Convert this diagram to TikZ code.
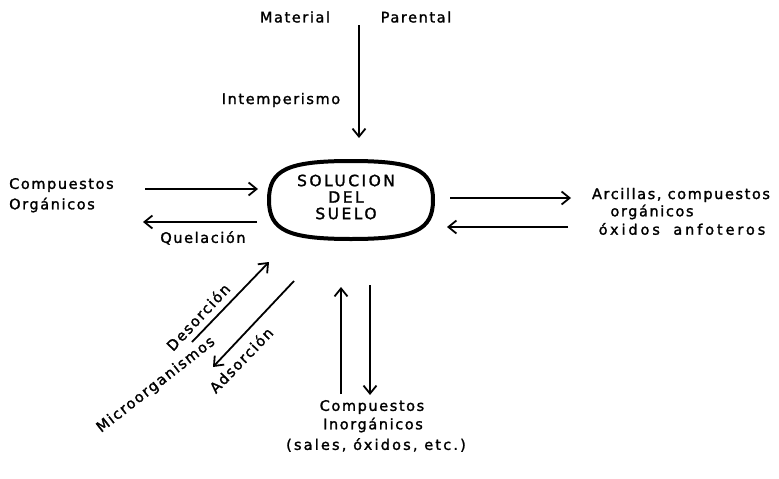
\documentclass[tikz,border=0pt]{standalone}
\usepackage{fontspec}
\setmainfont[LetterSpace=11,FakeBold=1.6]{DejaVu Sans}
\usetikzlibrary{arrows.meta}
\begin{document}
\begin{tikzpicture}[x=1pt,y=-1pt,
  lbl/.style={inner sep=0pt, font=\fontsize{14.5}{16.5}\selectfont},
  flow/.style={line width=1.8pt, -{Straight Barb[length=8pt,width=13pt,line width=1.8pt]}},
  blob/.style={line width=4pt, line join=round}]
\useasboundingbox (0,0) rectangle (779,479);
% central node
\node (sol) [minimum width=164pt, minimum height=78pt, align=center, lbl,
  font=\fontsize{15.5}{16.5}\selectfont\addfontfeature{LetterSpace=16}]
  at (346,197) {SOLUCION\\DEL\\SUELO};
\draw[blob] (433,200) .. controls (433,170) and (415,161) .. (351,161)
  .. controls (287,161) and (269,170) .. (269,200)
  .. controls (269,230) and (287,239) .. (351,239)
  .. controls (415,239) and (433,230) .. (433,200) -- cycle;
% texts
\node (mat) [lbl] at (295,17) {Material};
\node (par) [lbl] at (416,17) {Parental};
\node (int) [lbl] at (281,100) {Intemperismo};
\node (co1) [lbl, anchor=west] at (9,185) {Compuestos};
\node (co2) [lbl, anchor=west] at (9,205) {Orgánicos};
\node (que) [lbl] at (203,238) {Quelación};
\node (ar1) [lbl] at (681,195) {Arcillas, compuestos};
\node (ar2) [lbl] at (652,212) {orgánicos};
\node (ar3) [lbl, font=\fontsize{14.5}{16.5}\selectfont\addfontfeature{LetterSpace=20}]
  at (682,229) {óxidos\hspace{6pt} anfoteros};
\node (des) [lbl, rotate=47] at (198,317) {Desorción};
\node (ads) [lbl, rotate=46] at (241,360) {Adsorción};
\node (mic) [lbl, rotate=38] at (156,385) {Microorganismos};
\node (bi1) [lbl] at (372,407) {Compuestos};
\node (bi2) [lbl] at (373,425) {Inorgánicos};
\node (bi3) [lbl, font=\fontsize{14.5}{16.5}\selectfont\addfontfeature{LetterSpace=15}]
  at (376,445) {(sales, óxidos, etc.)};
% arrow end points
\coordinate (ta) at (359,25);   \coordinate (tb) at (359,138);
\coordinate (l1a) at (145,189); \coordinate (l1b) at (258,189);
\coordinate (l2a) at (257,222); \coordinate (l2b) at (143,222);
\coordinate (r1a) at (450,198); \coordinate (r1b) at (571,198);
\coordinate (r2a) at (568,227); \coordinate (r2b) at (447,227);
\coordinate (da) at (192,342);  \coordinate (db) at (269,262);
\coordinate (aa) at (294,281);  \coordinate (ab) at (213,367);
\coordinate (ua) at (341,394);  \coordinate (ub) at (341,287);
\coordinate (wa) at (370,285);  \coordinate (wb) at (370,395);
% arrows
\draw[flow] (ta) -- (tb);
\draw[flow] (l1a) -- (l1b);
\draw[flow] (l2a) -- (l2b);
\draw[flow] (r1a) -- (r1b);
\draw[flow] (r2a) -- (r2b);
\draw[flow] (da) -- (db);
\draw[flow] (aa) -- (ab);
\draw[flow] (ua) -- (ub);
\draw[flow] (wa) -- (wb);
\end{tikzpicture}
\end{document}
